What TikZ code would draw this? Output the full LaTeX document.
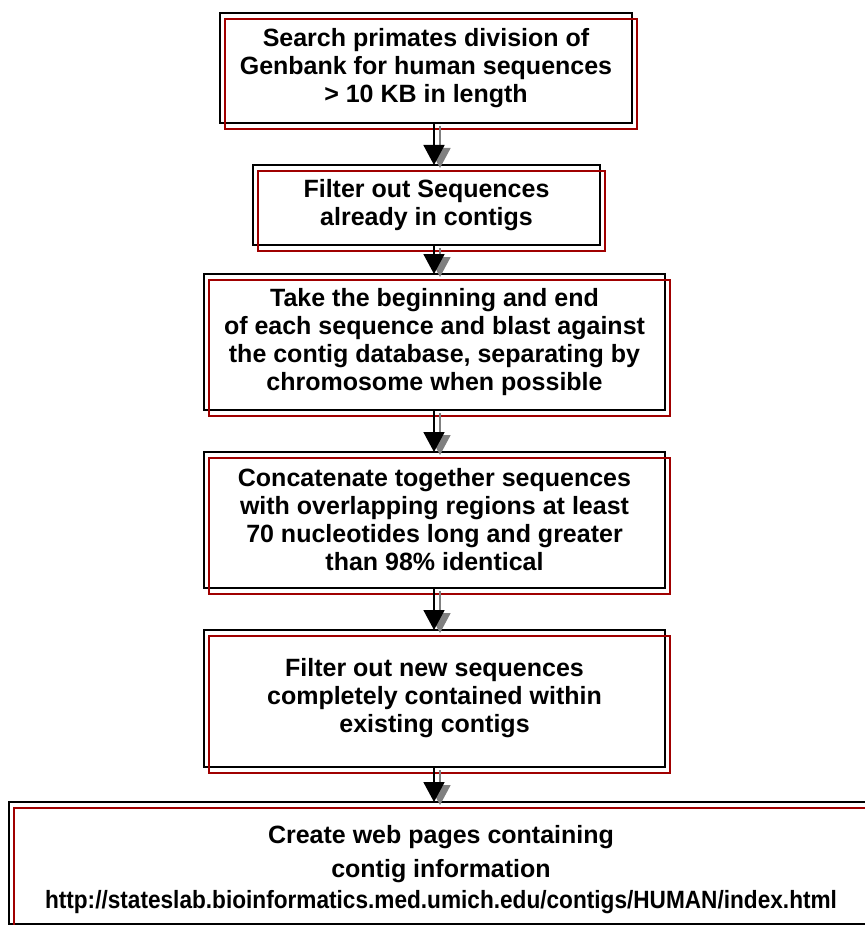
\documentclass[tikz,border=0pt]{standalone}
\usepackage{fontspec}
\usepackage{graphicx}
\setmainfont{Liberation Sans}
\usetikzlibrary{arrows.meta}
\definecolor{boxred}{RGB}{160,0,0}
\begin{document}
\begin{tikzpicture}[x=1pt, y=-1pt, align=center,
		box/.style={draw=black, line width=1.6pt, outer sep=0pt, inner sep=0pt, font=\fontsize{25}{28}\selectfont\bfseries},
		redframe/.style={draw=boxred, line width=1.4pt},
		arr/.style={line width=1.8pt, -{Triangle[width=21pt,length=20pt]}},
		arrshadow/.style={arr, draw=gray, fill=gray, transform canvas={xshift=6pt,yshift=-3pt}}]
	\useasboundingbox (0,0) rectangle (864,925);
	
	\node[box, minimum width=412pt, minimum height=110pt] (b1) at (426,68) {Search primates division of\\Genbank for human sequences\\> 10 KB in length};
	\node[box, minimum width=347pt, minimum height=80pt] (b2) at (426.5,205) {Filter out Sequences\\already in contigs};
	\node[box, minimum width=461pt, minimum height=136pt] (b3) at (434.5,342) {Take the beginning and end\\of each sequence and blast against\\the contig database, separating by\\chromosome when possible};
	\node[box, minimum width=461pt, minimum height=136pt] (b4) at (434.5,520) {Concatenate together sequences\\with overlapping regions at least\\70 nucleotides long and greater\\than 98\% identical};
	\node[box, minimum width=461pt, minimum height=137pt] (b5) at (434.5,698.5) {Filter out new sequences\\completely contained within\\existing contigs};
	\node[box, minimum width=864pt, minimum height=122pt] (b6) at (441,863) {\rule{0pt}{31pt}Create web pages containing\\[6pt]contig information\\[3pt]\scalebox{0.905}[1]{http://stateslab.bioinformatics.med.umich.edu/contigs/HUMAN/index.html}};
	
	% red copies of the frames
	\foreach \b in {b1,b2,b3,b4,b5,b6}
		\draw[redframe] ([shift={(5,6)}]\b.north west) rectangle ([shift={(5,6)}]\b.south east);
	
	% arrows with grey shadow
	\coordinate (axis) at (434,0);
	\foreach \a/\b in {b1/b2,b2/b3,b3/b4,b4/b5,b5/b6}{
		\draw[arrshadow] (\a.south -| axis) -- (\b.north -| axis);
		\draw[arr] (\a.south -| axis) -- (\b.north -| axis);
	}
\end{tikzpicture}
\end{document}
